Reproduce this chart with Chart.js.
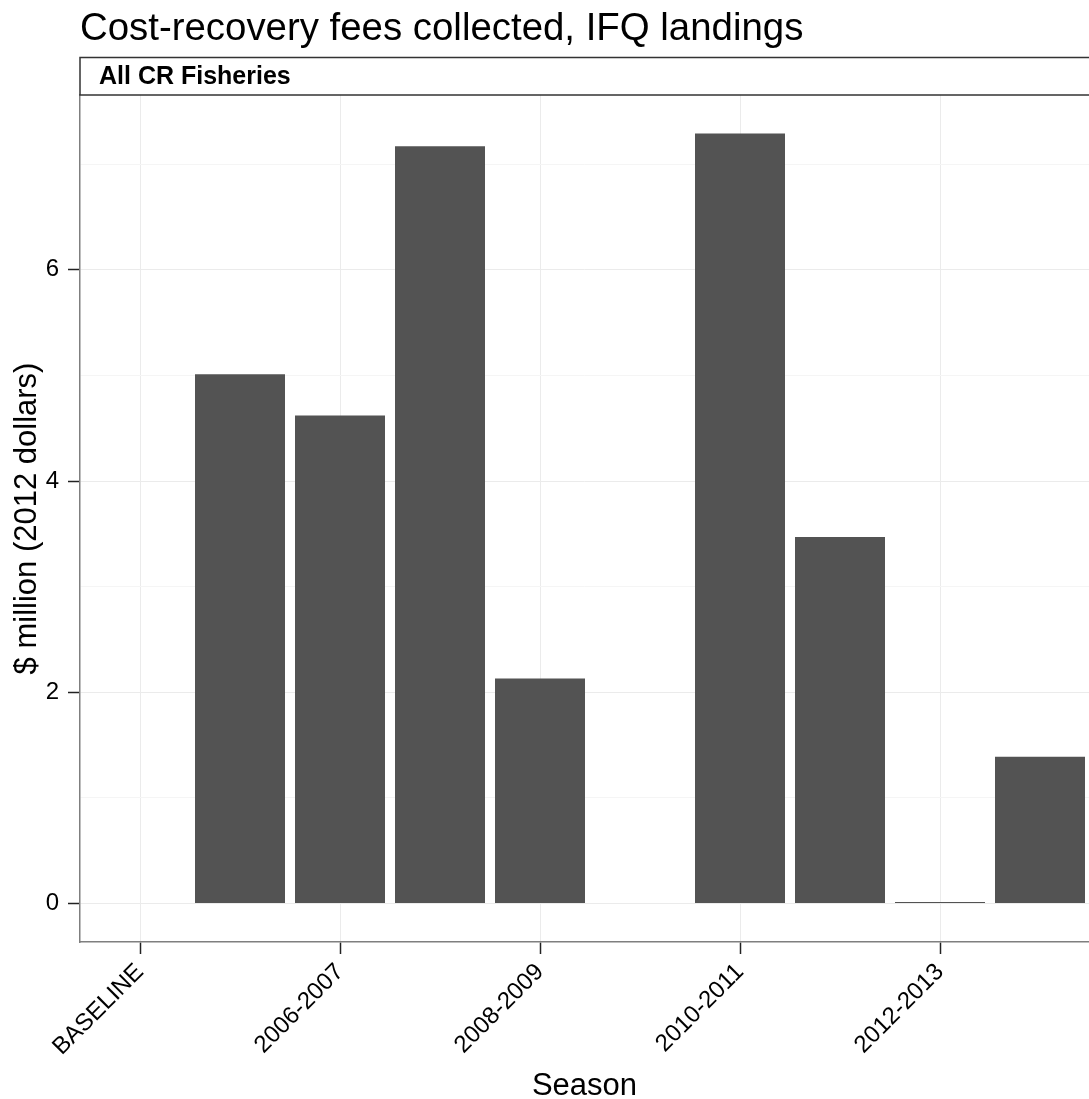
<!DOCTYPE html>
<html>
<head>
<meta charset="utf-8">
<script src="https://cdn.jsdelivr.net/npm/chart.js@4.4.1/dist/chart.umd.min.js"></script>
<style>
  html, body { margin: 0; padding: 0; background: #fff; }
  #wrap { width: 1089px; height: 1099px; }
</style>
</head>
<body>
<div id="wrap"><canvas id="chart" width="1089" height="1099"></canvas></div>
<script>
// data
const seasons = ['BASELINE', '2005-2006', '2006-2007', '2007-2008', '2008-2009',
                 '2009-2010', '2010-2011', '2011-2012', '2012-2013', '2013-2014'];
const fees = [null, 5.01, 4.62, 7.17, 2.13, null, 7.29, 3.47, 0.015, 1.39]; // $ million (2012 dollars)
const shownSeasons = ['BASELINE', '2006-2007', '2008-2009', '2010-2011', '2012-2013'];
const yTicks = [0, 1, 2, 3, 4, 5, 6, 7];
const yLabelled = [0, 2, 4, 6];

const titleText = 'Cost-recovery fees collected, IFQ landings';
const stripText = 'All CR Fisheries';
const FONT = '"Liberation Sans", Arial, Helvetica, sans-serif';

/* ---- facet strip + title, drawn ggplot-like ---- */
const stripPlugin = {
    id: 'strip',
    afterDraw(chart) {
        const { ctx, chartArea } = chart;
        ctx.save();
        // title
        ctx.fillStyle = '#000';
        ctx.font = '38.4px ' + FONT;
        ctx.textBaseline = 'alphabetic';
        ctx.textAlign = 'left';
        ctx.fillText(titleText, chartArea.left, 40);
        // strip box
        const top = 57.5, bottom = chartArea.top;
        ctx.fillStyle = '#fff';
        ctx.fillRect(chartArea.left, top, chart.width, bottom - top);
        ctx.strokeStyle = '#333';
        ctx.lineWidth = 1.5;
        ctx.strokeRect(chartArea.left, top, chart.width + 10, bottom - top);
        ctx.fillStyle = '#000';
        ctx.font = 'bold 25px ' + FONT;
        ctx.textBaseline = 'middle';
        ctx.fillText(stripText, chartArea.left + 19, (top + bottom) / 2 + 1);
        ctx.restore();
    }
};

new Chart(document.getElementById('chart'), {
    type: 'bar',
    data: {
        datasets: [{
            data: seasons.map((s, i) => ({ x: i, y: fees[i] })),
            backgroundColor: '#535353',
            borderWidth: 0,
            categoryPercentage: 1.0,
            barPercentage: 0.9
        }]
    },
    options: {
        responsive: false,
        devicePixelRatio: 1,
        animation: false,
        layout: { padding: { top: 95, left: 0, right: 0, bottom: 0 } },
        plugins: { legend: { display: false }, tooltip: { enabled: false }, title: { display: false } },
        scales: {
            x: {
                type: 'linear',
                offset: false,
                min: -0.6,
                max: 9.49,
                afterBuildTicks: (scale) => {
                    scale.ticks = shownSeasons.map(s => ({ value: seasons.indexOf(s) }));
                },
                afterFit: (scale) => { scale.height = 157; },
                grid: { offset: false, color: '#ebebeb', lineWidth: 1, tickLength: 12, tickColor: '#222', tickWidth: 1.5 },
                border: { display: true, color: '#7f7f7f', width: 1.5 },
                ticks: {
                    autoSkip: false,
                    maxRotation: 45,
                    minRotation: 45,
                    padding: 4,
                    color: '#000',
                    font: { family: FONT, size: 24 },
                    callback: (v) => seasons[v]
                },
                title: {
                    display: true,
                    text: 'Season',
                    color: '#000',
                    font: { family: FONT, size: 31, lineHeight: 0.8 },
                    padding: { top: 0, bottom: 0 }
                }
            },
            y: {
                min: -0.3645,
                max: 7.6545,
                afterBuildTicks: (scale) => {
                    scale.ticks = yTicks.map(v => ({ value: v }));
                },
                afterFit: (scale) => { scale.width = 80; },
                grid: {
                    color: (c) => yLabelled.includes(c.tick && c.tick.value) ? '#ebebeb' : '#f5f5f5',
                    lineWidth: 1,
                    tickLength: 12,
                    tickWidth: 1.5,
                    tickColor: (c) => yLabelled.includes(c.tick && c.tick.value) ? '#222' : 'rgba(0,0,0,0)'
                },
                border: { display: true, color: '#7f7f7f', width: 1.5 },
                ticks: {
                    padding: 9,
                    color: '#000',
                    font: { family: FONT, size: 24 },
                    callback: (v) => yLabelled.includes(v) ? String(v) : ''
                },
                title: {
                    display: true,
                    text: '$ million (2012 dollars)',
                    color: '#000',
                    font: { family: FONT, size: 31 },
                    padding: { top: 9, bottom: 0 }
                }
            }
        }
    },
    plugins: [stripPlugin]
});
</script>
</body>
</html>
